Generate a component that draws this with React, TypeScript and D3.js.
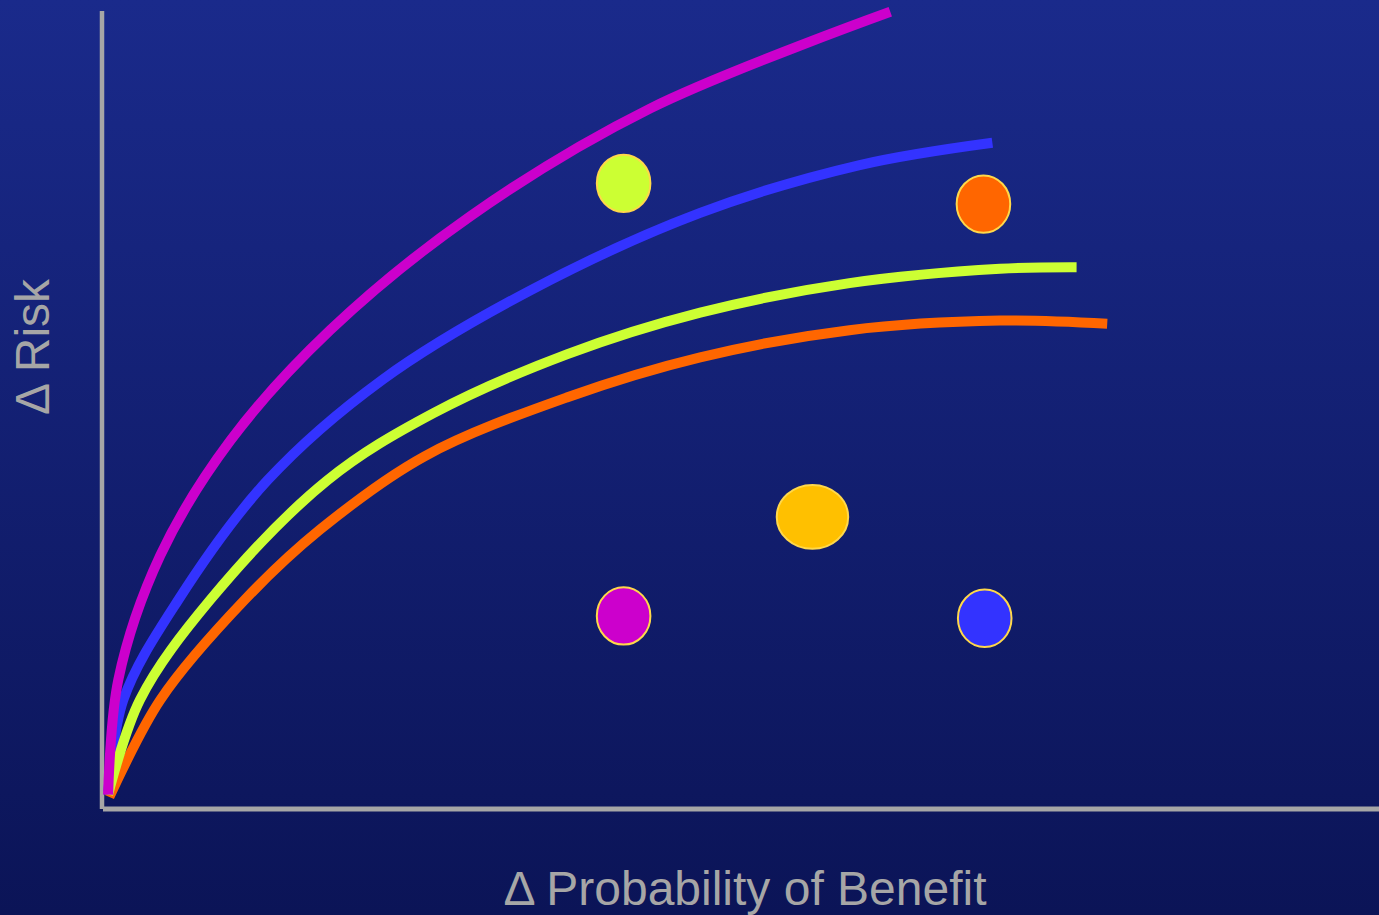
import React from "react";
import * as d3 from "d3";

type Pt = [number, number];

// Curves (x = Δ probability of benefit, y = Δ risk), in percent of axis length
const magentaCurve: Pt[] = [
  [0.4, 1.8], [1.2, 16.2], [4.5, 31.8], [10.0, 46.2], [17.8, 60.0],
  [28.8, 74.3], [42.9, 87.8], [61.7, 99.9],
];
const blueCurve: Pt[] = [
  [0.4, 1.8], [1.6, 13.7], [5.9, 26.2], [12.9, 41.2], [21.9, 53.8],
  [33.5, 65.0], [46.8, 74.7], [59.3, 80.7], [69.7, 83.5],
];
const limeCurve: Pt[] = [
  [0.4, 1.8], [2.9, 13.7], [8.4, 26.2], [17.6, 41.2], [25.9, 49.6],
  [36.4, 57.0], [46.8, 62.2], [58.5, 65.9], [70.3, 67.7], [76.3, 67.9],
];
const orangeCurve: Pt[] = [
  [0.5, 1.5], [4.5, 13.7], [11.1, 26.2], [17.0, 35.0], [25.2, 44.2],
  [36.4, 51.6], [46.8, 56.6], [58.5, 60.0], [70.3, 61.2], [78.7, 60.8],
];

const curveColors = ["#ff6600", "#3333ff", "#ccff33", "#cc00cc"];
const curves = [orangeCurve, blueCurve, limeCurve, magentaCurve];

// Points: x, y, half-width (x units), half-height (y units)
const dotX = [40.8, 69.0, 55.6, 40.8, 69.1];
const dotY = [78.4, 75.8, 36.6, 24.2, 23.9];
const dotRx = [2.1, 2.1, 2.8, 2.1, 2.1];
const dotRy = [3.6, 3.6, 4.0, 3.6, 3.6];
const dotColors = ["#ccff33", "#ff6600", "#ffc000", "#cc00cc", "#3333ff"];

const xLabel = "Δ Probability of Benefit";
const yLabel = "Δ Risk";

const W = 1379;
const H = 915;

export default function App() {
  const x = d3.scaleLinear().domain([0, 100]).range([103, 1379]);
  const y = d3.scaleLinear().domain([0, 100]).range([809, 11]);
  const line = d3
    .line<Pt>()
    .x((d) => x(d[0]))
    .y((d) => y(d[1]))
    .curve(d3.curveCatmullRom.alpha(0.5));

  const axisColor = "#a6a6a6";
  const font = "'Liberation Sans', Arial, sans-serif";

  return (
    <svg
      width={W}
      height={H}
      style={{ position: "fixed", left: 0, top: 0, display: "block" }}
    >
      <defs>
        <linearGradient id="bg" x1="0" y1="0" x2="0" y2="1">
          <stop offset="0" stopColor="#1a2a8b" />
          <stop offset="1" stopColor="#0b1457" />
        </linearGradient>
      </defs>
      <rect x={0} y={0} width={W} height={H} fill="url(#bg)" />

      {/* axes */}
      <line x1={x(0) - 1} x2={x(0) - 1} y1={y(100)} y2={y(0)} stroke={axisColor} strokeWidth={4.5} />
      <line x1={x(0)} x2={x(100)} y1={y(0)} y2={y(0)} stroke={axisColor} strokeWidth={5} />

      {/* curves */}
      {curves.map((c, i) => (
        <path
          key={i}
          d={line(c) || ""}
          fill="none"
          stroke={curveColors[i]}
          strokeWidth={10}
          strokeLinecap="butt"
        />
      ))}

      {/* dots */}
      {dotX.map((dx, i) => (
        <ellipse
          key={i}
          cx={x(dx)}
          cy={y(dotY[i])}
          rx={x(dotRx[i]) - x(0)}
          ry={y(0) - y(dotRy[i])}
          fill={dotColors[i]}
          stroke="#ffd84a"
          strokeWidth={2}
        />
      ))}

      {/* labels */}
      <text
        x={745}
        y={905}
        textAnchor="middle"
        fill={axisColor}
        fontFamily={font}
        fontSize={48}
      >
        {xLabel}
      </text>
      <text
        transform={`translate(49, 347) rotate(-90)`}
        textAnchor="middle"
        fill={axisColor}
        fontFamily={font}
        fontSize={48}
      >
        {yLabel}
      </text>
    </svg>
  );
}
